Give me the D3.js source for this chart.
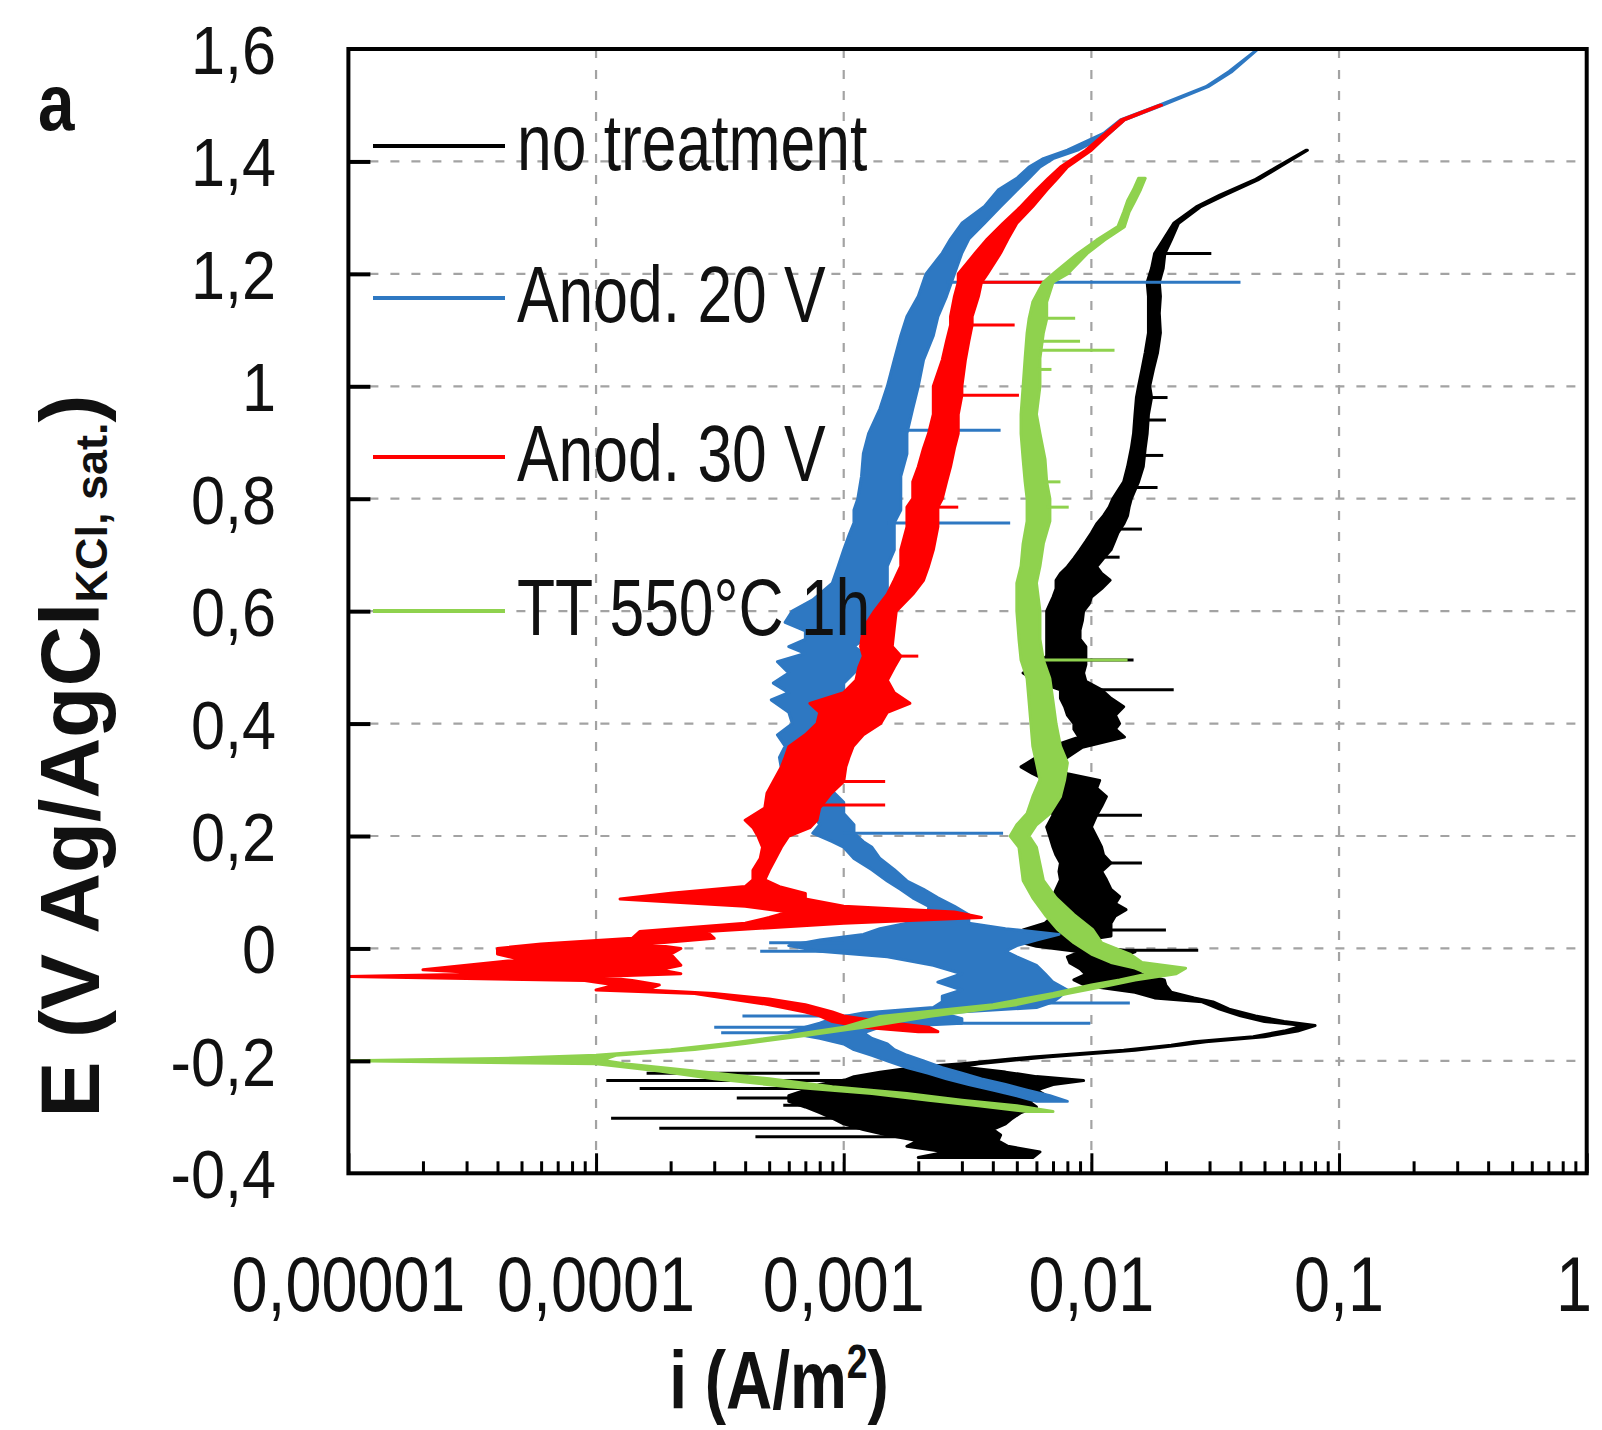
<!DOCTYPE html>
<html><head><meta charset="utf-8">
<script src="https://cdn.jsdelivr.net/npm/d3@7"></script>
<style>body{margin:0;background:#fff}svg{display:block}</style>
</head><body>
<svg id="chart" width="1602" height="1430"></svg>
<script>
// ---------- tick data ----------
const xTickValues = [1e-5, 1e-4, 1e-3, 1e-2, 1e-1, 1];
const xTickLabels = ["0,00001", "0,0001", "0,001", "0,01", "0,1", "1"];
const yTickValues = [-0.4, -0.2, 0, 0.2, 0.4, 0.6, 0.8, 1.0, 1.2, 1.4, 1.6];
const yTickLabels = ["-0,4", "-0,2", "0", "0,2", "0,4", "0,6", "0,8", "1", "1,2", "1,4", "1,6"];

// ---------- series ----------
const seriesNames = ["no treatment", "Anod. 20 V", "Anod. 30 V", "TT 550°C 1h"];
const seriesColors = ["#000000", "#2e78c2", "#ff0000", "#8fd24e"];

// rows: [E (V), i low (A/m2), i high (A/m2)] — envelope of the noisy trace
const noTreatmentBand = [
[-0.372,0.0020,0.0058],[-0.362,0.0026,0.0062],[-0.352,0.0018,0.0046],[-0.342,0.0020,0.0042],
[-0.332,0.0015,0.0043],[-0.322,0.0012,0.0040],[-0.312,0.0010,0.0045],[-0.302,0.0009,0.0048],
[-0.292,0.0008,0.0052],[-0.282,0.0007,0.0060],[-0.272,0.0006,0.0056],[-0.262,0.0006,0.0066],
[-0.252,0.0007,0.0060],[-0.242,0.0008,0.0070],[-0.235,0.0010,0.0093],[-0.228,0.0011,0.0060],
[-0.220,0.0014,0.0045],[-0.211,0.0020,0.0030],[-0.205,0.0030,0.0035],[-0.193,0.0058,0.0066],
[-0.181,0.0135,0.0150],[-0.172,0.021,0.023],[-0.166,0.026,0.029],[-0.157,0.045,0.050],
[-0.147,0.060,0.068],[-0.137,0.072,0.080],[-0.130,0.050,0.060],[-0.120,0.040,0.046],
[-0.108,0.033,0.036],[-0.095,0.028,0.031],[-0.088,0.018,0.026],[-0.078,0.015,0.021],
[-0.066,0.0095,0.020],[-0.056,0.0085,0.0197],[-0.046,0.0095,0.016],[-0.036,0.0090,0.0150],
[-0.026,0.0082,0.0143],[-0.015,0.0080,0.0130],[-0.006,0.0090,0.0150],[0.004,0.0060,0.0100],
[0.012,0.0051,0.0085],[0.022,0.0060,0.0120],[0.033,0.0053,0.0120],[0.045,0.0065,0.0120],
[0.058,0.0070,0.0125],[0.069,0.0074,0.0138],[0.080,0.0072,0.0125],[0.092,0.0070,0.0130],
[0.105,0.0072,0.0120],[0.122,0.0075,0.0115],[0.137,0.0074,0.0110],[0.152,0.0075,0.0120],
[0.166,0.0072,0.0112],[0.180,0.0070,0.0110],[0.198,0.0068,0.0105],[0.216,0.0066,0.0100],
[0.237,0.0070,0.0105],[0.253,0.0068,0.0110],[0.270,0.0066,0.0115],[0.285,0.0068,0.0105],
[0.299,0.0066,0.0108],[0.311,0.0058,0.0080],[0.323,0.0052,0.0066],[0.340,0.0060,0.0080],
[0.358,0.0068,0.0092],[0.376,0.0089,0.0136],[0.390,0.0085,0.0125],[0.400,0.0085,0.0130],
[0.415,0.0080,0.0125],[0.430,0.0078,0.0135],[0.445,0.0075,0.0120],[0.460,0.0075,0.0110],
[0.475,0.0060,0.0095],[0.490,0.0053,0.0093],[0.505,0.0060,0.0095],[0.520,0.0066,0.0095],
[0.537,0.0066,0.0095],[0.550,0.0066,0.0090],[0.566,0.0066,0.0090],[0.583,0.0066,0.0092],
[0.600,0.0066,0.0093],[0.613,0.0068,0.0098],[0.625,0.0070,0.0100],[0.640,0.0072,0.0110],
[0.655,0.0072,0.0119],[0.667,0.0075,0.0110],[0.679,0.0080,0.0105],[0.694,0.0085,0.0112],
[0.709,0.0090,0.0120],[0.724,0.0095,0.0124],[0.739,0.0100,0.0128],[0.755,0.0105,0.0135],
[0.770,0.0112,0.0140],[0.785,0.0118,0.0142],[0.800,0.0122,0.0145],[0.830,0.0135,0.0155],
[0.857,0.0140,0.0162],[0.890,0.0145,0.0165],[0.916,0.0148,0.0168],[0.950,0.0150,0.0170],
[0.980,0.0152,0.0175],[1.000,0.0155,0.0172],[1.030,0.0160,0.0178],[1.060,0.0165,0.0185],
[1.095,0.0170,0.0190],[1.130,0.0170,0.0188],[1.160,0.0170,0.0190],[1.185,0.0168,0.0188],
[1.210,0.0175,0.0195],[1.236,0.0180,0.0198],[1.260,0.0195,0.0210],[1.290,0.0215,0.0225],
[1.319,0.0265,0.0275],[1.340,0.0330,0.0345],[1.367,0.0455,0.0470],[1.390,0.0560,0.0575],
[1.420,0.0735,0.0745]
];
// spikes: [E, i from, i to]
const noTreatmentSpikes = [
[-0.335,0.00044,0.0018],[-0.320,0.00018,0.0015],[-0.302,0.000115,0.0012],[-0.279,0.00057,0.0010],
[-0.266,0.00037,0.0009],[-0.249,0.00015,0.0009],[-0.235,0.00011,0.0015],[-0.222,0.00016,0.0008],
[-0.003,0.012,0.027],[0.033,0.012,0.020],[0.152,0.010,0.016],[0.237,0.0095,0.016],
[0.460,0.010,0.0215],[0.513,0.009,0.0148],[0.696,0.011,0.013],[0.746,0.012,0.016],
[0.820,0.014,0.0185],[0.877,0.015,0.0195],[0.940,0.016,0.020],[0.980,0.016,0.0203],
[1.236,0.019,0.0305]
];

const anod20Band = [
[-0.272,0.0060,0.0080],[-0.262,0.0050,0.0068],[-0.252,0.0040,0.0055],[-0.242,0.0032,0.0045],
[-0.232,0.0026,0.0036],[-0.222,0.0022,0.0030],[-0.212,0.0018,0.0025],[-0.200,0.0015,0.0021],
[-0.190,0.0013,0.0018],[-0.180,0.0011,0.0016],[-0.170,0.0010,0.0015],[-0.160,0.0008,0.0013],
[-0.150,0.0006,0.0012],[-0.140,0.0007,0.0014],[-0.133,0.0008,0.0030],[-0.125,0.0009,0.0030],
[-0.115,0.0012,0.0025],[-0.105,0.0023,0.0060],[-0.095,0.0025,0.0070],[-0.085,0.0025,0.0075],
[-0.074,0.0030,0.0080],[-0.060,0.0024,0.0070],[-0.045,0.0030,0.0065],[-0.030,0.0023,0.0060],
[-0.015,0.0015,0.0050],[-0.005,0.0008,0.0045],[0.005,0.0006,0.0050],[0.015,0.0008,0.0060],
[0.025,0.0012,0.0074],[0.035,0.0014,0.0045],[0.045,0.0018,0.0032],[0.060,0.0022,0.0032],
[0.075,0.0022,0.0028],[0.090,0.0019,0.0024],[0.105,0.0017,0.0021],[0.120,0.0015,0.0018],
[0.140,0.0013,0.0016],[0.160,0.0011,0.0014],[0.180,0.0010,0.0013],[0.190,0.0009,0.0012],
[0.205,0.00075,0.0011],[0.220,0.0008,0.0011],[0.240,0.00075,0.0010],[0.260,0.0007,0.0010],
[0.280,0.00065,0.0009],[0.300,0.0006,0.0009],[0.320,0.00056,0.0008],[0.340,0.00055,0.00085],
[0.360,0.00058,0.0009],[0.380,0.00054,0.0010],[0.400,0.00062,0.0009],[0.420,0.0006,0.0010],
[0.442,0.00051,0.0009],[0.455,0.0006,0.0010],[0.472,0.00052,0.0010],[0.490,0.0006,0.0011],
[0.510,0.00054,0.0012],[0.525,0.0007,0.0012],[0.537,0.0006,0.0011],[0.550,0.0007,0.0012],
[0.565,0.0007,0.0013],[0.580,0.00058,0.0013],[0.600,0.00062,0.0014],[0.620,0.00075,0.0015],
[0.650,0.0009,0.0015],[0.680,0.00095,0.0015],[0.709,0.0010,0.0016],[0.735,0.00105,0.0016],
[0.757,0.0011,0.0016],[0.780,0.0011,0.0017],[0.800,0.00114,0.0017],[0.840,0.00118,0.0017],
[0.880,0.0012,0.0018],[0.916,0.00126,0.0018],[0.960,0.0014,0.0019],[1.000,0.0015,0.0020],
[1.047,0.0016,0.0021],[1.090,0.0017,0.0023],[1.124,0.0018,0.0024],[1.160,0.0020,0.0026],
[1.200,0.00215,0.0028],[1.237,0.0025,0.0030],[1.262,0.0027,0.0032],[1.290,0.0030,0.0037],
[1.320,0.0037,0.0043],[1.349,0.0042,0.0050],[1.370,0.0050,0.0056],[1.390,0.0056,0.0062],
[1.405,0.0064,0.0070],[1.420,0.0080,0.0088],[1.450,0.0112,0.0118],[1.474,0.0131,0.0136],
[1.500,0.0188,0.0194],[1.533,0.0290,0.0296],[1.560,0.0360,0.0370],[1.600,0.0470,0.0470]
];
const anod20Spikes = [
[-0.150,0.00032,0.0008],[-0.140,0.0003,0.0009],[-0.120,0.00039,0.0012],[-0.133,0.0015,0.0099],
[-0.097,0.0050,0.0143],[-0.005,0.00046,0.0012],[0.010,0.0005,0.0010],[0.205,0.0010,0.0044],
[0.757,0.0015,0.0047],[0.922,0.0017,0.0043],[1.185,0.0026,0.040]
];

const anod30Band = [
[-0.148,0.0020,0.0024],[-0.140,0.0012,0.0022],[-0.130,0.0009,0.0014],[-0.120,0.0008,0.0010],
[-0.113,0.0007,0.0009],[-0.100,0.0005,0.0007],[-0.090,0.00035,0.0005],[-0.080,0.00025,0.0003],
[-0.074,0.0001,0.00016],[-0.065,0.00012,0.00018],[-0.057,0.00009,0.00014],[-0.050,0.00001,0.0001],
[-0.045,0.00004,0.00022],[-0.038,0.00002,0.00018],[-0.030,0.00003,0.00022],[-0.020,0.00005,0.00021],
[-0.010,0.00004,0.0002],[0.000,0.00004,0.00022],[0.008,0.00006,0.00016],[0.018,0.00014,0.0003],
[0.030,0.00015,0.00028],[0.045,0.0004,0.0010],[0.055,0.0005,0.0036],[0.065,0.0006,0.0028],
[0.075,0.0004,0.0010],[0.088,0.000125,0.0007],[0.098,0.0002,0.0007],[0.110,0.0004,0.00055],
[0.122,0.00043,0.00048],[0.139,0.00043,0.0005],[0.160,0.00046,0.00053],[0.180,0.00047,0.00056],
[0.200,0.00045,0.0006],[0.215,0.00043,0.00073],[0.228,0.0004,0.00078],[0.250,0.00048,0.0008],
[0.276,0.00049,0.00089],[0.297,0.00052,0.0010],[0.323,0.00056,0.00102],[0.340,0.00058,0.00105],
[0.359,0.0006,0.00109],[0.380,0.0007,0.0012],[0.400,0.00078,0.00141],[0.420,0.0008,0.0015],
[0.436,0.00073,0.00185],[0.455,0.0010,0.0016],[0.477,0.00112,0.0015],[0.500,0.00115,0.0016],
[0.520,0.0012,0.0017],[0.537,0.00117,0.00157],[0.570,0.0012,0.0016],[0.600,0.00133,0.00163],
[0.630,0.0015,0.0019],[0.655,0.0016,0.0021],[0.680,0.0017,0.0022],[0.709,0.0017,0.0023],
[0.750,0.0018,0.0024],[0.785,0.0018,0.0024],[0.800,0.0019,0.0025],[0.830,0.0019,0.0026],
[0.857,0.0020,0.0027],[0.890,0.0021,0.0028],[0.916,0.0022,0.0029],[0.950,0.0023,0.0029],
[0.984,0.0023,0.0030],[1.000,0.0023,0.0030],[1.047,0.0025,0.0031],[1.080,0.0026,0.0032],
[1.109,0.0027,0.0033],[1.124,0.0027,0.0033],[1.160,0.0028,0.0035],[1.185,0.0029,0.0036],
[1.200,0.0029,0.0038],[1.237,0.0034,0.0043],[1.262,0.0038,0.0046],[1.290,0.0044,0.0050],
[1.320,0.0052,0.0058],[1.349,0.0060,0.0066],[1.370,0.0067,0.0073],[1.390,0.0075,0.0080],
[1.420,0.0095,0.0100],[1.450,0.0114,0.0118],[1.474,0.0132,0.0136],[1.500,0.0189,0.0192]
];
const anod30Spikes = [
[0.255,0.0008,0.00147],[0.297,0.0010,0.00147],[0.520,0.0015,0.0020],[0.785,0.0023,0.0029],
[0.984,0.0028,0.0051],[1.109,0.0031,0.0049],[1.185,0.0035,0.0066]
];

const tt550Band = [
[-0.290,0.0055,0.0070],[-0.280,0.0035,0.0050],[-0.270,0.0022,0.0030],[-0.258,0.0013,0.0018],
[-0.246,0.0006,0.0009],[-0.232,0.0003,0.0005],[-0.218,0.00018,0.00025],[-0.205,0.00010,0.00013],
[-0.200,0.00001,0.00011],[-0.196,0.00004,0.00011],[-0.190,0.0001,0.00012],[-0.180,0.0002,0.00025],
[-0.169,0.00034,0.0004],[-0.155,0.0006,0.0007],[-0.140,0.0010,0.0012],[-0.121,0.0014,0.0022],
[-0.100,0.0040,0.0050],[-0.080,0.0070,0.0080],[-0.065,0.0100,0.0120],[-0.056,0.0130,0.0150],
[-0.045,0.0170,0.0220],[-0.035,0.0150,0.0240],[-0.025,0.0120,0.0160],[-0.010,0.0100,0.0143],
[0.010,0.0085,0.0110],[0.034,0.0073,0.0101],[0.060,0.0065,0.0085],[0.090,0.0058,0.0072],
[0.121,0.0053,0.0064],[0.150,0.0052,0.0062],[0.180,0.0051,0.0060],[0.200,0.0047,0.0056],
[0.220,0.0050,0.0060],[0.240,0.0055,0.0068],[0.270,0.0058,0.0075],[0.300,0.0062,0.0078],
[0.330,0.0060,0.0080],[0.360,0.0058,0.0075],[0.400,0.0057,0.0072],[0.440,0.0056,0.0070],
[0.480,0.0055,0.0068],[0.513,0.0052,0.0064],[0.550,0.0051,0.0062],[0.600,0.0050,0.0062],
[0.650,0.0050,0.0060],[0.680,0.0052,0.0062],[0.720,0.0053,0.0064],[0.760,0.0055,0.0068],
[0.800,0.0055,0.0068],[0.830,0.0054,0.0066],[0.870,0.0053,0.0065],[0.916,0.0052,0.0062],
[0.950,0.0052,0.0060],[1.000,0.0053,0.0062],[1.050,0.0054,0.0062],[1.095,0.0055,0.0064],
[1.120,0.0056,0.0066],[1.150,0.0058,0.0066],[1.185,0.0064,0.0070],[1.200,0.0070,0.0080],
[1.236,0.0088,0.0096],[1.260,0.0105,0.0113],[1.284,0.0128,0.0136],[1.310,0.0135,0.0142],
[1.330,0.0140,0.0150],[1.350,0.0148,0.0158],[1.370,0.0155,0.0165]
];
const tt550Spikes = [
[0.513,0.0062,0.0140],[0.785,0.0066,0.0081],[0.830,0.0064,0.0075],[1.030,0.0060,0.0069],
[1.064,0.0062,0.0124],[1.080,0.0062,0.0090],[1.121,0.0064,0.0086]
];

const bands = [noTreatmentBand, anod20Band, anod30Band, tt550Band];
const spikes = [noTreatmentSpikes, anod20Spikes, anod30Spikes, tt550Spikes];

// ---------- layout ----------
const FONT = "'Liberation Sans', Arial, Helvetica, sans-serif";
const plot = {l: 348.4, r: 1586.7, t: 49, b: 1173.3};
const svg = d3.select("#chart");
const x = d3.scaleLog().domain([1e-5, 1]).range([plot.l, plot.r]);
const y = d3.scaleLinear().domain([-0.4, 1.6]).range([plot.b, plot.t]);

svg.append("rect").attr("width", 1602).attr("height", 1430).attr("fill", "#fff");

// grid
const grid = svg.append("g").attr("stroke", "#a3a3a3").attr("stroke-width", 2.2)
  .attr("stroke-dasharray", "9,12").attr("fill", "none");
grid.selectAll("line.v").data(xTickValues.slice(1, -1)).join("line")
  .attr("x1", d => x(d)).attr("x2", d => x(d)).attr("y1", plot.t).attr("y2", plot.b);
grid.selectAll("line.h").data(yTickValues.slice(1, -1)).join("line")
  .attr("x1", plot.l).attr("x2", plot.r).attr("y1", d => y(d)).attr("y2", d => y(d));

// data
svg.append("clipPath").attr("id", "clip").append("rect")
  .attr("x", plot.l).attr("y", plot.t).attr("width", plot.r - plot.l).attr("height", plot.b - plot.t);
const dataG = svg.append("g").attr("clip-path", "url(#clip)");
const area = d3.area().y(d => y(d[0])).x0(d => x(d[1])).x1(d => x(d[2])).curve(d3.curveLinear);

bands.forEach((band, k) => {
  const g = dataG.append("g");
  g.append("path").datum(band).attr("d", area)
    .attr("fill", seriesColors[k]).attr("stroke", seriesColors[k])
    .attr("stroke-width", 3).attr("stroke-linejoin", "round");
  g.selectAll("line").data(spikes[k]).join("line")
    .attr("x1", d => x(d[1])).attr("x2", d => x(d[2]))
    .attr("y1", d => y(d[0])).attr("y2", d => y(d[0]))
    .attr("stroke", seriesColors[k]).attr("stroke-width", 3);
});

// frame
svg.append("rect").attr("x", plot.l).attr("y", plot.t)
  .attr("width", plot.r - plot.l).attr("height", plot.b - plot.t)
  .attr("fill", "none").attr("stroke", "#000").attr("stroke-width", 4);

// axes ticks (inward)
const minorX = [];
xTickValues.slice(0, -1).forEach(v => { for (let m = 2; m <= 9; m++) minorX.push(v * m); });
const xAxisMajor = d3.axisBottom(x).tickValues(xTickValues).tickSize(-20).tickFormat("");
const xAxisMinor = d3.axisBottom(x).tickValues(minorX).tickSize(-12).tickFormat("");
[xAxisMajor, xAxisMinor].forEach(ax => {
  const g = svg.append("g").attr("transform", `translate(0,${plot.b})`).call(ax);
  g.select(".domain").remove();
  g.selectAll("line").attr("stroke", "#000").attr("stroke-width", 3);
});
const yAxis = d3.axisLeft(y).tickValues(yTickValues.slice(1, -1)).tickSize(-22).tickFormat("");
const gy = svg.append("g").attr("transform", `translate(${plot.l},0)`).call(yAxis);
gy.select(".domain").remove();
gy.selectAll("line").attr("stroke", "#000").attr("stroke-width", 4);

// tick labels
svg.append("g").selectAll("text").data(xTickValues).join("text")
  .attr("transform", d => `translate(${Math.min(x(d), 1574)},1311) scale(0.83,1)`)
  .attr("text-anchor", "middle").attr("font-family", FONT).attr("font-size", 78)
  .attr("fill", "#111").text((d, i) => xTickLabels[i]);
svg.append("g").selectAll("text").data(yTickValues).join("text")
  .attr("transform", d => `translate(276,${y(d) + 25}) scale(0.9,1)`)
  .attr("text-anchor", "end").attr("font-family", FONT).attr("font-size", 68)
  .attr("fill", "#111").text((d, i) => yTickLabels[i]);

// axis titles
const xt = svg.append("text").attr("transform", "translate(779,1408) scale(0.78,1)")
  .attr("text-anchor", "middle").attr("font-family", FONT).attr("font-size", 82)
  .attr("font-weight", "bold").attr("fill", "#111");
xt.append("tspan").text("i (A/m");
xt.append("tspan").attr("font-size", 48).attr("dy", -30).text("2");
xt.append("tspan").attr("dy", 30).text(")");

const yt = svg.append("text").attr("transform", "translate(99,756) rotate(-90)")
  .attr("text-anchor", "middle").attr("font-family", FONT).attr("font-size", 84)
  .attr("font-weight", "bold").attr("fill", "#111");
yt.append("tspan").text("E (V Ag/AgCl");
yt.append("tspan").attr("font-size", 45).attr("dy", 8).text("KCl, sat.");
yt.append("tspan").attr("dy", -8).text(")");

svg.append("text").attr("transform", "translate(38,130) scale(0.82,1)")
  .attr("font-family", FONT).attr("font-size", 80).attr("font-weight", "bold")
  .attr("fill", "#111").text("a");

// legend
const legendY = [146, 298, 457, 611];
const lg = svg.append("g");
seriesNames.forEach((name, k) => {
  lg.append("line").attr("x1", 373).attr("x2", 505).attr("y1", legendY[k]).attr("y2", legendY[k])
    .attr("stroke", seriesColors[k]).attr("stroke-width", 4);
  lg.append("text").attr("transform", `translate(517,${legendY[k] + 24}) scale(0.78,1)`)
    .attr("font-family", FONT).attr("font-size", 80).attr("fill", "#111").text(name);
});
</script>
</body></html>
